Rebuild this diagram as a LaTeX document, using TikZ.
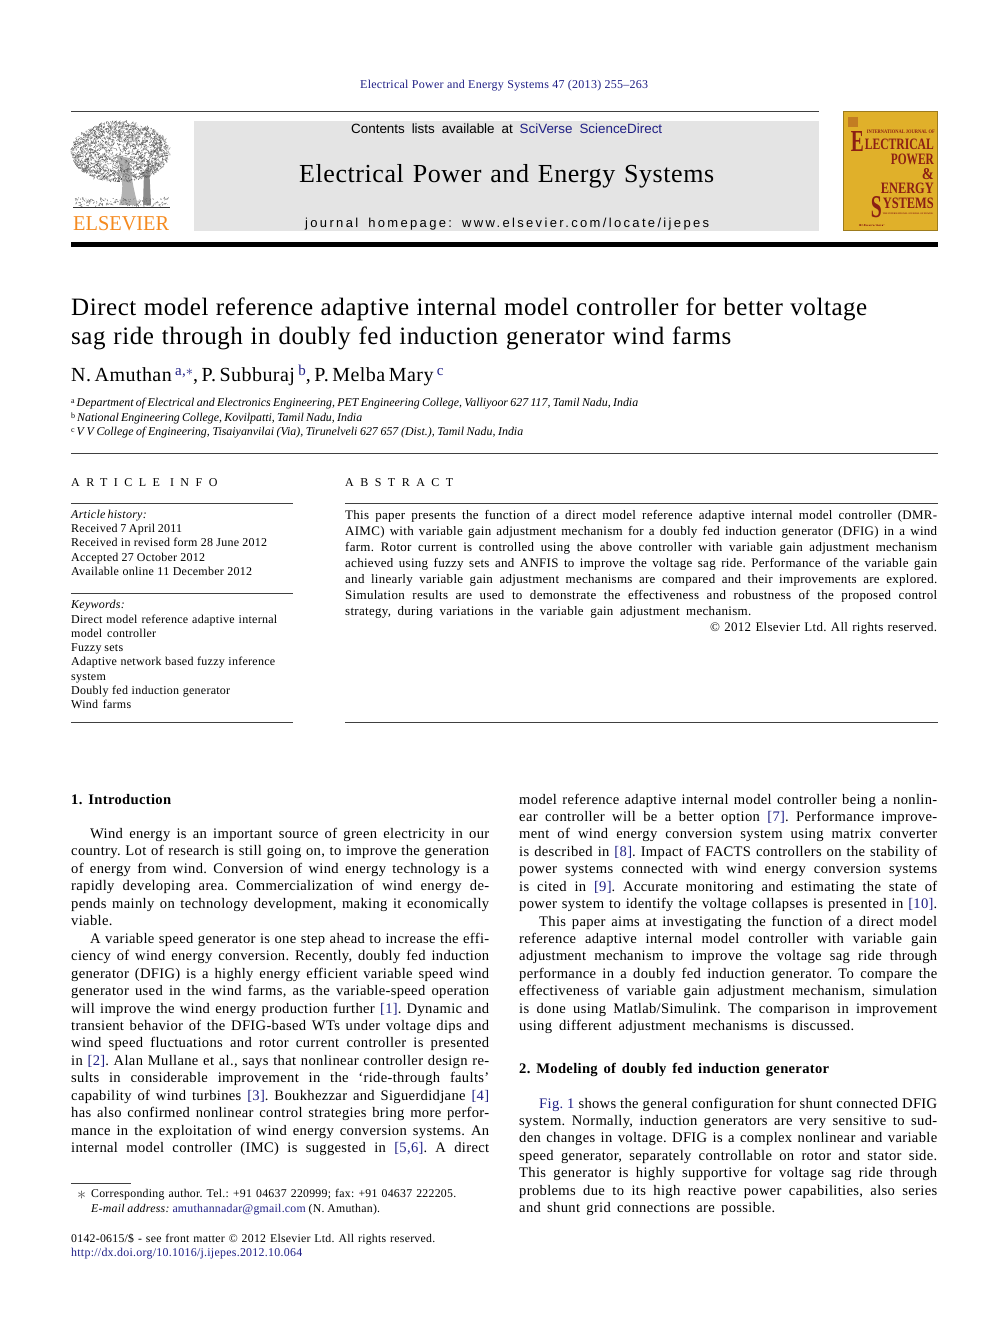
\documentclass[tikz,border=0pt]{standalone}
\usepackage{fontspec}
\usepackage{graphicx}
\usepackage{tikz}
\setmainfont[LetterSpace=2.2]{Liberation Serif}
\setsansfont{Liberation Sans}
\newfontfamily\plainserif{Liberation Serif}
\newfontfamily\trackedsans[LetterSpace=18]{Liberation Sans}
\newfontfamily\trackedserif[LetterSpace=54]{Liberation Serif}
\definecolor{linkblue}{HTML}{1F1F85}
\definecolor{headgray}{HTML}{E4E4E4}
\definecolor{elsorange}{HTML}{F58A1F}
\definecolor{covergold}{HTML}{E0B02A}
\definecolor{coverred}{HTML}{8C1F14}
\newcommand{\fit}[2]{\makebox[#1pt][s]{#2}}
\newcommand{\lnk}[1]{\textcolor{linkblue}{#1}}
\newcommand{\cvr}[3]{\resizebox{#1pt}{#2pt}{\plainserif\bfseries #3}}
\newcommand{\upmark}[1]{\raisebox{6pt}{\fontsize{15}{15}\selectfont\lnk{#1}}}
\newcommand{\affmark}[1]{\raisebox{3pt}{\fontsize{8}{8}\selectfont\upshape #1}}
\frenchspacing

\begin{document}
\begin{tikzpicture}[
      x=1pt,
      y=-1pt,
      pagetext/.style={anchor=base west, inner sep=0pt, text=black},
      bodytext/.style={pagetext, font=\fontsize{14.6}{17}\selectfont},
      abstext/.style={pagetext, font=\fontsize{13}{16}\selectfont},
      infotext/.style={pagetext, font=\fontsize{12}{14}\selectfont},
      foottext/.style={pagetext, font=\fontsize{11.8}{14}\selectfont},
      affil/.style={pagetext, font=\plainserif\fontsize{11.9}{14}\selectfont\itshape},
      rulethin/.style={line width=0.7pt, black!75},
      covertext/.style={anchor=north east, inner sep=0pt, text=coverred}
    ]
      \useasboundingbox (0,0) rectangle (992,1323);
      \fill[white] (0,0) rectangle (992,1323);

      % masthead
      \node (jref) at (360,88) [pagetext, font=\fontsize{12}{14}\selectfont, text=linkblue]
        {\fit{288}{Electrical Power and Energy Systems 47 (2013) 255--263}};
      \draw[rulethin] (71,111) -- (819,111);
      \fill[headgray] (194,121) rectangle (819,231);
      \fill[black] (71,242) rectangle (938,247);
      \node (contents) at (351,133) [pagetext, font=\sffamily\fontsize{13.4}{15}\selectfont]
        {\fit{311}{Contents lists available at \lnk{SciVerse ScienceDirect}}};
      \node (jname) at (299,182) [pagetext, font=\fontsize{26}{30}\selectfont]
        {\fit{415}{Electrical Power and Energy Systems}};
      \node (jhome) at (305,227) [pagetext, font=\trackedsans\fontsize{13}{15}\selectfont]
        {\fit{404}{journal homepage: www.elsevier.com/locate/ijepes}};

      % publisher logo
      \fill[black!30] (119,205) .. controls (125,190) and (122,170) .. (116,155)
        -- (129,158) .. controls (131,175) and (134,192) .. (138,205) -- cycle;
      \fill[black!45] (143,205) -- (144,172) -- (149,164) -- (151,205) -- cycle;
      \pgfmathsetseed{4711}
      \foreach \i in {1,...,2200} {
        \pgfmathsetmacro{\ang}{rnd*360}
        \pgfmathsetmacro{\rad}{rnd^0.42}
        \pgfmathsetmacro{\lx}{120+49*\rad*cos(\ang)}
        \pgfmathsetmacro{\ly}{152+30*\rad*sin(\ang)}
        \pgfmathsetmacro{\tone}{int(30+45*rnd)}
        \draw[line width=0.5pt, black!\tone] (\lx,\ly) -- ++({2.5*rand},{2.5*rand});
      }
      \foreach \i in {1,...,160} {
        \pgfmathsetmacro{\lx}{75+93*rnd}
        \pgfmathsetmacro{\ly}{198+8*rnd}
        \draw[line width=0.5pt, black!55] (\lx,\ly) -- ++({2*rand},{2*rand});
      }
      \draw[line width=0.8pt, black!80] (73,207) -- (170,207);
      \node (elsevier) at (73,230) [pagetext, text=elsorange, font=\fontsize{22}{24}\selectfont]
        {\resizebox{96pt}{14pt}{\plainserif ELSEVIER}};

      % journal cover
      \draw[fill=covergold, draw=covergold!70!black, line width=0.6pt] (843,111.5) rectangle (937.6,230.5);
      \fill[coverred!35!covergold] (848,117) rectangle (858,127);
      \node (cover0) at (935,130) [covertext] {\cvr{68}{3.5}{INTERNATIONAL JOURNAL OF}};
      \node (cover1) at (864,131) [covertext] {\cvr{13}{20}{E}};
      \node (cover2) at (934,139) [covertext] {\cvr{69}{10.5}{LECTRICAL}};
      \node (cover3) at (934,154) [covertext] {\cvr{43}{10.5}{POWER}};
      \node (cover4) at (934,168) [covertext] {\cvr{12}{11}{\&}};
      \node (cover5) at (934,183) [covertext] {\cvr{53}{10.5}{ENERGY}};
      \node (cover6) at (882,196) [covertext] {\cvr{11}{21}{S}};
      \node (cover7) at (934,198) [covertext] {\cvr{51}{10.5}{YSTEMS}};
      \node (cover8) at (933,213) [covertext] {\cvr{50}{1.5}{THE INTERNATIONAL JOURNAL OF POWER}};
      \node (cover9) at (885,224) [covertext] {\cvr{26}{2}{Elsevier}};

      % title block
      \node (title1) at (71,315) [pagetext, font=\fontsize{25}{29}\selectfont]
        {\fit{796}{Direct model reference adaptive internal model controller for better voltage}};
      \node (title2) at (71,344) [pagetext, font=\fontsize{25}{29}\selectfont]
        {\fit{660}{sag ride through in doubly fed induction generator wind farms}};
      \node (authors) at (71,381) [pagetext, font=\fontsize{20}{23}\selectfont]
        {\fit{370}{N.~Amuthan\,\upmark{a,$*$}, P.~Subburaj\,\upmark{b}, P.~Melba~Mary\,\upmark{c}}};
      \node (aff1) at (71,406) [affil]
        {\fit{567}{\affmark{a}\,Department of Electrical and Electronics Engineering, PET Engineering College, Valliyoor 627 117, Tamil Nadu, India}};
      \node (aff2) at (71,421) [affil]
        {\fit{291}{\affmark{b}\,National Engineering College, Kovilpatti, Tamil Nadu, India}};
      \node (aff3) at (71,435) [affil]
        {\fit{452}{\affmark{c}\,V V College of Engineering, Tisaiyanvilai (Via), Tirunelveli 627 657 (Dist.), Tamil Nadu, India}};
      \draw[rulethin] (71,453) -- (938,453);

      % article info
      \node (infohead) at (71,486) [pagetext, font=\trackedserif\fontsize{12}{14}\selectfont]
        {ARTICLE\hspace{10pt}INFO};
      \draw[rulethin] (71,503) -- (293,503);
      \node (hist0) at (71,518) [infotext] {\fit{71}{\itshape Article history:}};
      \node (hist1) at (71,532) [infotext] {\fit{111}{Received 7 April 2011}};
      \node (hist2) at (71,546) [infotext] {\fit{196}{Received in revised form 28 June 2012}};
      \node (hist3) at (71,561) [infotext] {\fit{134}{Accepted 27 October 2012}};
      \node (hist4) at (71,575) [infotext] {\fit{181}{Available online 11 December 2012}};
      \draw[rulethin] (71,593) -- (293,593);
      \node (key0) at (71,608) [infotext] {\itshape Keywords:};
      \node (key1) at (71,623) [infotext] {\fit{206}{Direct model reference adaptive internal}};
      \node (key2) at (71,637) [infotext] {\fit{85}{model controller}};
      \node (key3) at (71,651) [infotext] {\fit{52}{Fuzzy sets}};
      \node (key4) at (71,665) [infotext] {\fit{204}{Adaptive network based fuzzy inference}};
      \node (key5) at (71,680) [infotext] {system};
      \node (key6) at (71,694) [infotext] {\fit{159}{Doubly fed induction generator}};
      \node (key7) at (71,708) [infotext] {\fit{60}{Wind farms}};
      \draw[rulethin] (71,722) -- (293,722);

      % abstract
      \node (abshead) at (345,486) [pagetext, font=\trackedserif\fontsize{12}{14}\selectfont]
        {ABSTRACT};
      \draw[rulethin] (345,503) -- (938,503);
      \node (abs1) at (345,519) [abstext] {\fit{592}{This paper presents the function of a direct model reference adaptive internal model controller (DMR-}};
      \node (abs2) at (345,535) [abstext] {\fit{592}{AIMC) with variable gain adjustment mechanism for a doubly fed induction generator (DFIG) in a wind}};
      \node (abs3) at (345,551) [abstext] {\fit{592}{farm. Rotor current is controlled using the above controller with variable gain adjustment mechanism}};
      \node (abs4) at (345,567) [abstext] {\fit{592}{achieved using fuzzy sets and ANFIS to improve the voltage sag ride. Performance of the variable gain}};
      \node (abs5) at (345,583) [abstext] {\fit{592}{and linearly variable gain adjustment mechanisms are compared and their improvements are explored.}};
      \node (abs6) at (345,599) [abstext] {\fit{592}{Simulation results are used to demonstrate the effectiveness and robustness of the proposed control}};
      \node (abs7) at (345,615) [abstext] {\fit{406}{strategy, during variations in the variable gain adjustment mechanism.}};
      \node (abs8) at (710,631) [abstext] {\fit{227}{© 2012 Elsevier Ltd. All rights reserved.}};
      \draw[rulethin] (345,722) -- (938,722);

      % left column
      \node (sec1) at (71,804) [bodytext, font=\fontsize{14.6}{17}\selectfont\bfseries] {\fit{100}{1. Introduction}};
      \node (la1) at (90,838) [bodytext] {\fit{399}{Wind energy is an important source of green electricity in our}};
      \node (la2) at (71,855) [bodytext] {\fit{418}{country. Lot of research is still going on, to improve the generation}};
      \node (la3) at (71,873) [bodytext] {\fit{418}{of energy from wind. Conversion of wind energy technology is a}};
      \node (la4) at (71,890) [bodytext] {\fit{418}{rapidly developing area. Commercialization of wind energy de-}};
      \node (la5) at (71,908) [bodytext] {\fit{418}{pends mainly on technology development, making it economically}};
      \node (la6) at (71,925) [bodytext] {viable.};
      \node (lb1) at (90,943) [bodytext] {\fit{399}{A variable speed generator is one step ahead to increase the effi-}};
      \node (lb2) at (71,960) [bodytext] {\fit{418}{ciency of wind energy conversion. Recently, doubly fed induction}};
      \node (lb3) at (71,978) [bodytext] {\fit{418}{generator (DFIG) is a highly energy efficient variable speed wind}};
      \node (lb4) at (71,995) [bodytext] {\fit{418}{generator used in the wind farms, as the variable-speed operation}};
      \node (lb5) at (71,1013) [bodytext] {\fit{418}{will improve the wind energy production further \lnk{[1]}. Dynamic and}};
      \node (lb6) at (71,1030) [bodytext] {\fit{418}{transient behavior of the DFIG-based WTs under voltage dips and}};
      \node (lb7) at (71,1047) [bodytext] {\fit{418}{wind speed fluctuations and rotor current controller is presented}};
      \node (lb8) at (71,1065) [bodytext] {\fit{418}{in \lnk{[2]}. Alan Mullane et al., says that nonlinear controller design re-}};
      \node (lb9) at (71,1082) [bodytext] {\fit{418}{sults in considerable improvement in the `ride-through faults'}};
      \node (lb10) at (71,1100) [bodytext] {\fit{418}{capability of wind turbines \lnk{[3]}. Boukhezzar and Siguerdidjane \lnk{[4]}}};
      \node (lb11) at (71,1117) [bodytext] {\fit{418}{has also confirmed nonlinear control strategies bring more perfor-}};
      \node (lb12) at (71,1135) [bodytext] {\fit{418}{mance in the exploitation of wind energy conversion systems. An}};
      \node (lb13) at (71,1152) [bodytext] {\fit{418}{internal model controller (IMC) is suggested in \lnk{[5,6]}. A direct}};

      % footnotes
      \draw[rulethin] (71,1183) -- (131,1183);
      \node (fnmark) at (77,1199) [foottext, text=black!70] {\resizebox{9pt}{!}{$*$}};
      \node (fn1) at (91,1197) [foottext] {\fit{365}{Corresponding author. Tel.: +91 04637 220999; fax: +91 04637 222205.}};
      \node (fn2) at (91,1212) [foottext] {\fit{289}{\textit{E-mail address:} \lnk{amuthannadar@gmail.com} (N. Amuthan).}};
      \node (fn3) at (71,1242) [foottext] {\fit{364}{0142-0615/\$ - see front matter © 2012 Elsevier Ltd. All rights reserved.}};
      \node (fn4) at (71,1256) [foottext, text=linkblue] {\resizebox{231pt}{!}{http://dx.doi.org/10.1016/j.ijepes.2012.10.064}};

      % right column
      \node (ra1) at (519,804) [bodytext] {\fit{418}{model reference adaptive internal model controller being a nonlin-}};
      \node (ra2) at (519,821) [bodytext] {\fit{418}{ear controller will be a better option \lnk{[7]}. Performance improve-}};
      \node (ra3) at (519,838) [bodytext] {\fit{418}{ment of wind energy conversion system using matrix converter}};
      \node (ra4) at (519,856) [bodytext] {\fit{418}{is described in \lnk{[8]}. Impact of FACTS controllers on the stability of}};
      \node (ra5) at (519,873) [bodytext] {\fit{418}{power systems connected with wind energy conversion systems}};
      \node (ra6) at (519,891) [bodytext] {\fit{418}{is cited in \lnk{[9]}. Accurate monitoring and estimating the state of}};
      \node (ra7) at (519,908) [bodytext] {\fit{418}{power system to identify the voltage collapses is presented in \lnk{[10]}.}};
      \node (rb1) at (539,926) [bodytext] {\fit{398}{This paper aims at investigating the function of a direct model}};
      \node (rb2) at (519,943) [bodytext] {\fit{418}{reference adaptive internal model controller with variable gain}};
      \node (rb3) at (519,960) [bodytext] {\fit{418}{adjustment mechanism to improve the voltage sag ride through}};
      \node (rb4) at (519,978) [bodytext] {\fit{418}{performance in a doubly fed induction generator. To compare the}};
      \node (rb5) at (519,995) [bodytext] {\fit{418}{effectiveness of variable gain adjustment mechanism, simulation}};
      \node (rb6) at (519,1013) [bodytext] {\fit{418}{is done using Matlab/Simulink. The comparison in improvement}};
      \node (rb7) at (519,1030) [bodytext] {\fit{335}{using different adjustment mechanisms is discussed.}};
      \node (sec2) at (519,1073) [bodytext, font=\fontsize{14.6}{17}\selectfont\bfseries] {\fit{310}{2. Modeling of doubly fed induction generator}};
      \node (rc1) at (539,1108) [bodytext] {\fit{398}{\lnk{Fig. 1} shows the general configuration for shunt connected DFIG}};
      \node (rc2) at (519,1125) [bodytext] {\fit{418}{system. Normally, induction generators are very sensitive to sud-}};
      \node (rc3) at (519,1142) [bodytext] {\fit{418}{den changes in voltage. DFIG is a complex nonlinear and variable}};
      \node (rc4) at (519,1160) [bodytext] {\fit{418}{speed generator, separately controllable on rotor and stator side.}};
      \node (rc5) at (519,1177) [bodytext] {\fit{418}{This generator is highly supportive for voltage sag ride through}};
      \node (rc6) at (519,1195) [bodytext] {\fit{418}{problems due to its high reactive power capabilities, also series}};
      \node (rc7) at (519,1212) [bodytext] {\fit{256}{and shunt grid connections are possible.}};
    \end{tikzpicture}
\end{document}
